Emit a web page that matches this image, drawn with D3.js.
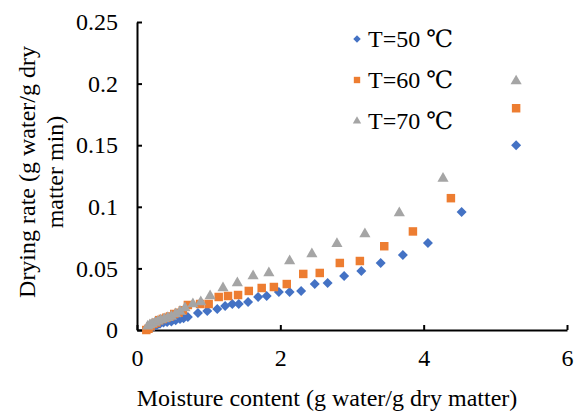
<!DOCTYPE html>
<html>
<head>
<meta charset="utf-8">
<script src="https://cdn.jsdelivr.net/npm/d3@7"></script>
<style>
  body { margin: 0; background: #fff; }
  svg text { font-family: "Liberation Serif", "DejaVu Serif", "Noto Sans CJK SC", serif; fill: #000; }
</style>
</head>
<body>
<svg id="chart" width="578" height="413"></svg>
<script>
// --- DATA ---
const xTicks = [0, 2, 4, 6];
const xTickLabels = ["0", "2", "4", "6"];
const yTicks = [0, 0.05, 0.1, 0.15, 0.2, 0.25];
const yTickLabels = ["0", "0.05", "0.1", "0.15", "0.2", "0.25"];

const seriesNames = ["T=50  \u2103", "T=60  \u2103", "T=70  \u2103"];

const x50 = [0.17, 0.2, 0.24, 0.28, 0.32, 0.37, 0.42, 0.48, 0.54, 0.6, 0.65, 0.71, 0.85, 0.98, 1.12, 1.23, 1.33, 1.42, 1.55, 1.69, 1.81, 1.98, 2.13, 2.29, 2.48, 2.66, 2.89, 3.13, 3.40, 3.71, 4.06, 4.53, 5.29];
const y50 = [0.001, 0.002, 0.003, 0.004, 0.005, 0.006, 0.0065, 0.007, 0.008, 0.009, 0.0095, 0.0106, 0.0138, 0.0154, 0.017, 0.0195, 0.0211, 0.0211, 0.0227, 0.0268, 0.0276, 0.0308, 0.0308, 0.0317, 0.0373, 0.0381, 0.0438, 0.0479, 0.0544, 0.0609, 0.0706, 0.0958, 0.150];

const x60 = [0.13, 0.16, 0.19, 0.23, 0.27, 0.31, 0.36, 0.41, 0.46, 0.52, 0.58, 0.64, 0.71, 0.88, 1.0, 1.14, 1.27, 1.41, 1.56, 1.74, 1.91, 2.09, 2.32, 2.55, 2.83, 3.11, 3.45, 3.85, 4.38, 5.29];
const y60 = [0.0, 0.001, 0.003, 0.005, 0.006, 0.008, 0.009, 0.010, 0.011, 0.013, 0.014, 0.016, 0.0203, 0.0211, 0.0211, 0.0268, 0.0276, 0.0284, 0.0317, 0.0341, 0.0349, 0.0373, 0.0455, 0.0463, 0.0544, 0.056, 0.068, 0.080, 0.107, 0.180];

const x70 = [0.15, 0.18, 0.21, 0.25, 0.29, 0.33, 0.38, 0.43, 0.48, 0.54, 0.6, 0.67, 0.78, 0.89, 1.02, 1.20, 1.40, 1.62, 1.84, 2.13, 2.44, 2.79, 3.18, 3.66, 4.27, 5.29];
const y70 = [0.003, 0.004, 0.005, 0.006, 0.007, 0.008, 0.009, 0.010, 0.011, 0.013, 0.015, 0.0179, 0.0211, 0.0227, 0.0276, 0.0341, 0.0381, 0.0438, 0.0463, 0.056, 0.0617, 0.070, 0.078, 0.095, 0.123, 0.202];

const series = [
  { name: seriesNames[0], xs: x50, ys: y50, color: "#4472C4", shape: "diamond" },
  { name: seriesNames[1], xs: x60, ys: y60, color: "#ED7D31", shape: "square" },
  { name: seriesNames[2], xs: x70, ys: y70, color: "#A5A5A5", shape: "triangle" }
];

const FONT = '"Liberation Serif", "DejaVu Serif", "Noto Sans CJK SC", serif';

// --- SCALES ---
const svg = d3.select("#chart");
const x = d3.scaleLinear().domain([0, 6]).range([137, 567]);
const y = d3.scaleLinear().domain([0, 0.25]).range([330, 22]);

// marker paths
const symbolFor = {
  diamond: d3.symbol().type(d3.symbolSquare).size(50)(),
  square: d3.symbol().type(d3.symbolSquare).size(72)(),
  triangle: d3.symbol().type(d3.symbolTriangle).size(54)()
};
const rotFor = { diamond: 45, square: 0, triangle: 0 };

// --- AXES ---
const xAxis = svg.append("g").attr("transform", "translate(0,330)")
  .call(d3.axisBottom(x).tickValues(xTicks).tickFormat((d, i) => xTickLabels[i])
    .tickSizeInner(-5).tickSizeOuter(0).tickPadding(19));
const yAxis = svg.append("g").attr("transform", "translate(137,0)")
  .call(d3.axisLeft(y).tickValues(yTicks).tickFormat((d, i) => yTickLabels[i])
    .tickSizeInner(-5).tickSizeOuter(0).tickPadding(19));

[xAxis, yAxis].forEach(a => {
  a.attr("font-family", FONT).attr("font-size", 24);
  a.select(".domain").attr("stroke", "#000").attr("stroke-width", 2);
  a.selectAll(".tick line").attr("stroke", "#000").attr("stroke-width", 2);
  a.selectAll(".tick text").style("font-family", FONT).style("font-size", "24px");
});

// --- POINTS ---
series.forEach(s => {
  svg.append("g").selectAll("path")
    .data(s.xs.map((v, i) => [v, s.ys[i]]))
    .join("path")
    .attr("d", symbolFor[s.shape])
    .attr("fill", s.color)
    .attr("transform", d => `translate(${x(d[0])},${y(d[1])}) rotate(${rotFor[s.shape]})`);
});

// --- LEGEND ---
const legend = svg.append("g");
series.forEach((s, i) => {
  const ly = 39 + i * 41;
  legend.append("path")
    .attr("d", symbolFor[s.shape])
    .attr("fill", s.color)
    .attr("transform", `translate(357,${ly}) rotate(${rotFor[s.shape]}) scale(0.75)`);
  legend.append("text")
    .attr("x", 368).attr("y", ly + 8)
    .style("font-family", FONT)
    .style("font-size", "24px")
    .text(s.name);
});

// --- TITLES ---
svg.append("text")
  .attr("x", 327).attr("y", 406)
  .attr("text-anchor", "middle")
  .style("font-family", FONT)
  .style("font-size", "24px")
  .text("Moisture content (g water/g dry matter)");

const yTitle = svg.append("text")
  .attr("transform", "translate(0,172) rotate(-90)")
  .attr("text-anchor", "middle")
  .style("font-family", FONT)
  .style("font-size", "24px");
yTitle.append("tspan").attr("x", 0).attr("y", 35).text("Drying rate (g water/g dry");
yTitle.append("tspan").attr("x", 0).attr("y", 63).text("matter min)");
</script>
</body>
</html>
